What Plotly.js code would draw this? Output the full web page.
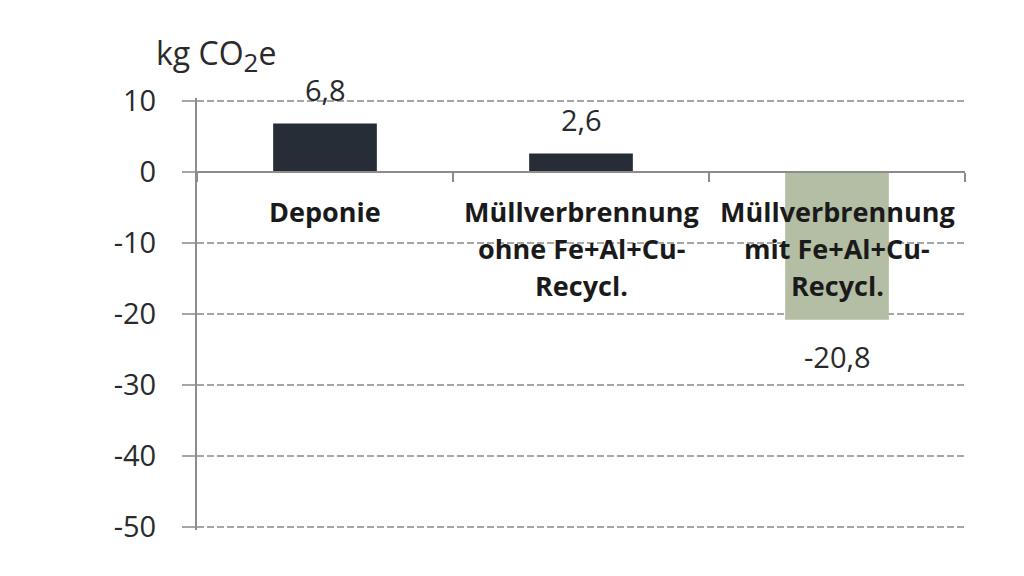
<!DOCTYPE html>
<html>
<head>
<meta charset="utf-8">
<script src="https://cdn.plot.ly/plotly-3.0.1.min.js"></script>
<style>
  html, body { margin: 0; padding: 0; background: #ffffff; }
  #chart { width: 1024px; height: 576px; }
</style>
</head>
<body>
<div id="chart"></div>
<script>
// ---- data ----
const categories = ["Deponie", "Müllverbrennung ohne Fe+Al+Cu-Recycl.", "Müllverbrennung mit Fe+Al+Cu-Recycl."];
const categoryLines = [
  ["Deponie"],
  ["Müllverbrennung", "ohne Fe+Al+Cu-", "Recycl."],
  ["Müllverbrennung", "mit Fe+Al+Cu-", "Recycl."]
];
const values = [6.8, 2.6, -20.8];
const valueLabels = ["6,8", "2,6", "-20,8"];
const barColors = ["#262d36", "#262d36", "#b3bea5"];
const yTickValues = [10, 0, -10, -20, -30, -40, -50];
const yTickLabels = ["10", "0", "-10", "-20", "-30", "-40", "-50"];
const unitLabel = "kg CO<sub><span style='font-size:26px'>2</span></sub>e";

// ---- layout ----
const yRange = [-50.4, 10.4];
const zeroPos = (0 - yRange[0]) / (yRange[1] - yRange[0]);
const FONT = "'Open Sans', 'Noto Sans', sans-serif";
const textColor = "#2a2a2a";

const annotations = [];
values.forEach((v, i) => {
  annotations.push({
    x: categories[i], y: v, xref: "x", yref: "y",
    text: valueLabels[i], showarrow: false,
    yanchor: "middle", yshift: v >= 0 ? 34 : -37,
    font: { family: FONT, size: 29, color: textColor }
  });
});
categoryLines.forEach((lines, i) => {
  lines.forEach((ln, j) => {
    annotations.push({
      x: categories[i], y: 0, xref: "x", yref: "y",
      text: "<b>" + ln + "</b>", showarrow: false,
      yanchor: "middle", yshift: -(40 + j * 37),
      font: { family: FONT, size: 27, color: "#1a1a1a" }
    });
  });
});
annotations.push({
  xref: "paper", yref: "paper", x: -0.056, y: 1.0,
  xanchor: "left", yanchor: "bottom", yshift: 16,
  text: unitLabel, showarrow: false,
  font: { family: FONT, size: 32, color: textColor }
});

const trace = {
  type: "bar",
  x: categories,
  y: values,
  marker: { color: barColors, line: { width: 0 } },
  width: 0.405,
  hoverinfo: "skip"
};

const layout = {
  width: 1024, height: 576,
  margin: { l: 197, r: 59, t: 98, b: 46, pad: 0 },
  paper_bgcolor: "#ffffff", plot_bgcolor: "#ffffff",
  showlegend: false,
  font: { family: FONT, color: textColor },
  xaxis: {
    type: "category",
    anchor: "free", position: zeroPos,
    showline: true, linecolor: "#8c8c8c", linewidth: 2,
    ticks: "outside", tickson: "boundaries", ticklen: 9, tickwidth: 2, tickcolor: "#8c8c8c",
    showticklabels: false, showgrid: false, zeroline: false,
    fixedrange: true
  },
  yaxis: {
    range: yRange,
    tickmode: "array", tickvals: yTickValues, ticktext: yTickLabels,
    tickfont: { family: FONT, size: 29, color: textColor },
    ticks: "outside", ticklen: 13, tickwidth: 1.5, tickcolor: "#a6a6a6",
    ticklabelstandoff: 20,
    showline: true, linecolor: "#8c8c8c", linewidth: 2,
    showgrid: true, gridcolor: "#a6a6a6", gridwidth: 1.5, griddash: "7px,3px",
    zeroline: false,
    fixedrange: true
  },
  annotations: annotations
};

Plotly.newPlot("chart", [trace], layout, { displayModeBar: false, staticPlot: true });
</script>
</body>
</html>
